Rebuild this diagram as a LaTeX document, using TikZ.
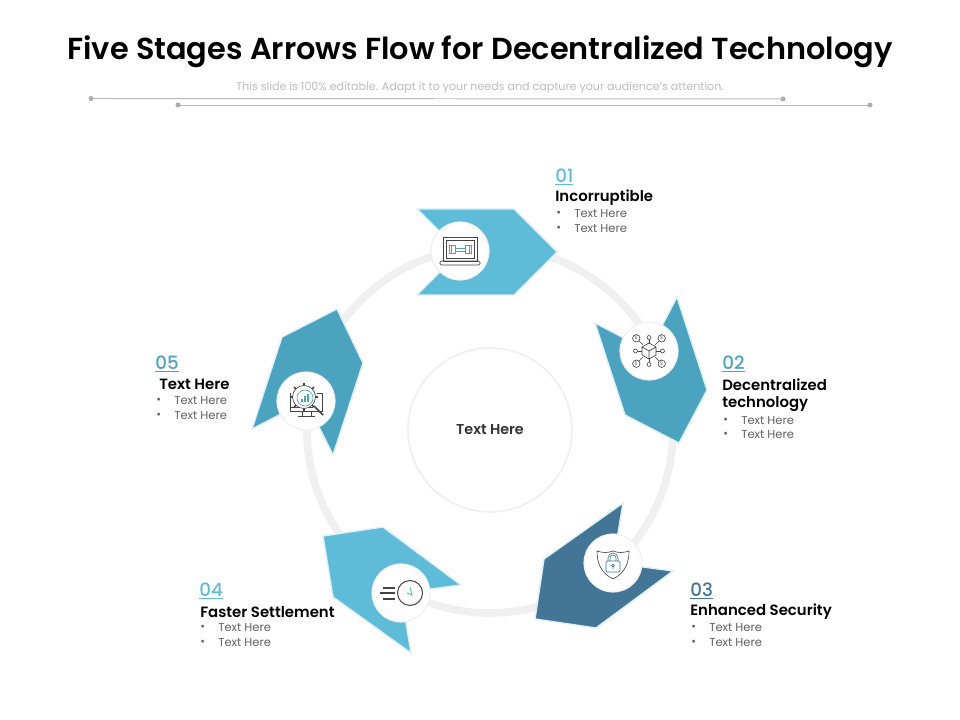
\documentclass[tikz,border=0pt]{standalone}
\usepackage{fontspec}
\setmainfont{Poppins}[BoldFont={Poppins SemiBold}]
\newfontfamily\numfont{Poppins Medium}
\definecolor{skyblue}{HTML}{5FBCD8}
\definecolor{midblue}{HTML}{4BA3BF}
\definecolor{deepblue}{HTML}{437597}
\definecolor{ringgray}{HTML}{F0F0F0}
\definecolor{edgeblue}{HTML}{DDF0F6}
\definecolor{icongray}{HTML}{444444}
\tikzset{
  stagearrow/.style={draw=edgeblue, line width=1pt, line join=miter},
  iconcircle/.style={circle, fill=white, draw=ringgray, line width=0.8pt, minimum size=58*0.711pt, inner sep=0pt},
  numlabel/.style={anchor=west, inner sep=0pt, yshift=-1.3pt, font=\numfont\fontsize{13}{15}\selectfont},
  headlabel/.style={anchor=west, inner sep=0pt, yshift=-1.3pt, font=\fontsize{10.6}{13}\selectfont\bfseries, text=black},
  itemlabel/.style={anchor=west, inner sep=0pt, yshift=-1pt, font=\fontsize{8.2}{9}\selectfont, text=black!62},
  iconline/.style={draw=icongray, line width=0.45pt},
  icontint/.style={draw=midblue, line width=0.45pt},
  dotline/.style={draw=black!28, line width=0.7pt}
}
\begin{document}
\begin{tikzpicture}[x=0.025cm, y=-0.025cm]
\useasboundingbox (0,0) rectangle (960,720);
% heading
\node (title) at (480,52) [inner sep=0pt, font=\fontsize{21.6}{25}\selectfont\bfseries, text=black] {Five Stages Arrows Flow for Decentralized Technology};
\node (subtitle) at (480,88) [inner sep=0pt, font=\fontsize{7.9}{10}\selectfont, text=black!26] {This slide is 100\% editable. Adapt it to your needs and capture your audience's attention.};
\coordinate (la) at (91,98.5);
\coordinate (lb) at (783,99);
\coordinate (lc) at (178,105);
\coordinate (ld) at (870,105);
\draw[dotline] (la) -- (lb);
\draw[dotline] (lc) -- (ld);
\foreach \p in {la,lb,lc,ld} \fill[black!32] (\p) circle (2.5);
% ring and middle
\coordinate (mid) at (490,430);
\draw[ringgray, line width=5.5pt] (mid) circle (183);
\node (hub) at (mid) [circle, fill=white, draw=ringgray, line width=1.2pt, minimum size=164*0.711pt, inner sep=0pt, font=\fontsize{10.2}{12}\selectfont\bfseries, text=black!80] {Text Here};
% arrows
\fill[skyblue, stagearrow] (417,209) -- (514,209) -- (557,252) -- (514,295) -- (417,295) -- (460,252) -- cycle;
\fill[midblue, stagearrow] (595,323) -- (649,351) -- (677,297) -- (707,390) -- (679,443) -- (625,415) -- cycle;
\fill[deepblue, stagearrow] (623,503) -- (613,563) -- (673,571) -- (596,628) -- (535,619) -- (544,559) -- cycle;
\fill[skyblue, stagearrow] (461,585) -- (401,593) -- (411,653) -- (333,597) -- (323,536) -- (383,527) -- cycle;
\fill[midblue, stagearrow] (252,429) -- (306,401) -- (333,455) -- (363,363) -- (337,309) -- (282,337) -- cycle;
% circles
\node (cone) at (460,251) [iconcircle] {};
\node (ctwo) at (649,351) [iconcircle] {};
\node (cthree) at (613,563) [iconcircle] {};
\node (cfour) at (401,593) [iconcircle] {};
\node (cfive) at (306,401) [iconcircle] {};
% laptop
\begin{scope}[shift={(cone)}]
\draw[iconline] (-17,-14) rectangle (17,10);
\draw[iconline] (-14,-11) rectangle (14,7.5);
\draw[iconline, rounded corners=1] (-20,10) rectangle (20,14);
\draw[icontint] (-11,-6) rectangle (-5,2.5) (5,-6) rectangle (11,2.5) (-5,-3) rectangle (5,0) (-9,-6) -- (-9,2.5) (9,-6) -- (9,2.5);
\end{scope}
% network
\begin{scope}[shift={(ctwo)}]
\draw[iconline] (0,-8) -- (7,-4) -- (7,4) -- (0,8) -- (-7,4) -- (-7,-4) -- cycle (-7,-4) -- (0,0) -- (7,-4) (0,0) -- (0,8);
\foreach \a in {45,135,225,315} {
  \draw[iconline] (\a:9) -- (\a:14);
  \draw[iconline] (\a:18) circle (3.7);
  \node (n\a) at (\a:18) [inner sep=0pt, font=\fontsize{3.5}{4}\selectfont, text=black!60] {\$};
}
\foreach \a in {0,90,180,270} {
  \draw[iconline] (\a:7) -- (\a:11.5);
  \draw[iconline] (\a:13.5) circle (2);
}
\end{scope}
% shield
\begin{scope}[shift={(cthree)}]
\draw[iconline] (0,-12) .. controls (-5,-10) and (-10,-10) .. (-16,-12) .. controls (-16,0) and (-12,10) .. (0,16) .. controls (12,10) and (16,0) .. (16,-12) .. controls (10,-10) and (5,-10) .. (0,-12);
\draw[draw=deepblue, line width=0.45pt, rounded corners=1] (-7,-2) rectangle (7,9);
\draw[draw=deepblue, line width=0.45pt] (-5,-2) -- (-5,-5) arc (180:360:5) -- (5,-2);
\draw[draw=deepblue, line width=0.45pt] (-3,-2) -- (-3,-5) arc (180:360:3) -- (3,-2);
\draw[draw=deepblue, line width=0.45pt] (0,2.5) circle (1.4) (0,3.9) -- (0,6);
\end{scope}
% clock
\begin{scope}[shift={(cfour)}]
\draw[icongray, line width=0.7pt] (9,0) circle (12.5);
\draw[icongray, line width=0.8pt] (-18,-5) -- (-6,-5) (-21,0) -- (-6,0) (-18,6) -- (-6,6);
\draw[draw=skyblue, line width=0.7pt] (9,-6) -- (11,2) -- (6,0);
\end{scope}
% gear and monitor
\begin{scope}[shift={(cfive)}]
\draw[iconline] (-16,-8) -- (-16,10) -- (16,10) -- (16,-8) -- (11,-8);
\draw[iconline] (-16,6) -- (7,6);
\draw[iconline] (-4,10) -- (-4,15) (5,10) -- (5,15) (-8,15) -- (9,15);
\begin{scope}[shift={(-2,-4)}]
\foreach \a in {0,45,...,315} \draw[iconline, line width=1.2pt] (\a:11) -- (\a:14);
\draw[iconline, fill=white] (0,0) circle (11.5);
\draw[icontint] (1,1) circle (8);
\draw[icontint, line width=0.9pt] (-2,5) -- (-2,2) (1,5) -- (1,-1) (4,5) -- (4,-3);
\end{scope}
\draw[iconline, line width=1.2pt] (8,5) -- (17,14);
\end{scope}
% stage 01
\node (numone) at (555,175) [numlabel, text=skyblue] {\underline{01}};
\node (headone) at (555,196) [headlabel] {Incorruptible};
\node (dota) at (556,212) [itemlabel] {•};
\node (itema) at (574,212) [itemlabel] {Text Here};
\node (dotb) at (556,227) [itemlabel] {•};
\node (itemb) at (574,227) [itemlabel] {Text Here};
% stage 02
\node (numtwo) at (722,362) [numlabel, text=midblue] {\underline{02}};
\node (headtwo) at (722,383) [headlabel] {Decentralized};
\node (headtwob) at (722,402) [headlabel] {technology};
\node (dotc) at (723,419) [itemlabel] {•};
\node (itemc) at (741,419) [itemlabel] {Text Here};
\node (dotd) at (723,433) [itemlabel] {•};
\node (itemd) at (741,433) [itemlabel] {Text Here};
% stage 03
\node (numthree) at (690,589) [numlabel, text=deepblue] {\underline{03}};
\node (headthree) at (690,610) [headlabel] {Enhanced Security};
\node (dote) at (691,626) [itemlabel] {•};
\node (iteme) at (709,626) [itemlabel] {Text Here};
\node (dotf) at (691,641) [itemlabel] {•};
\node (itemf) at (709,641) [itemlabel] {Text Here};
% stage 04
\node (numfour) at (199,589) [numlabel, text=skyblue] {\underline{04}};
\node (headfour) at (200,610) [headlabel] {Faster Settlement};
\node (dotg) at (200,626) [itemlabel] {•};
\node (itemg) at (218,626) [itemlabel] {Text Here};
\node (doth) at (200,641) [itemlabel] {•};
\node (itemh) at (218,641) [itemlabel] {Text Here};
% stage 05
\node (numfive) at (155,362) [numlabel, text=midblue] {\underline{05}};
\node (headfive) at (159,383) [headlabel] {Text Here};
\node (doti) at (156,399) [itemlabel] {•};
\node (itemi) at (174,399) [itemlabel] {Text Here};
\node (dotj) at (156,414) [itemlabel] {•};
\node (itemj) at (174,414) [itemlabel] {Text Here};
\end{tikzpicture}
\end{document}
